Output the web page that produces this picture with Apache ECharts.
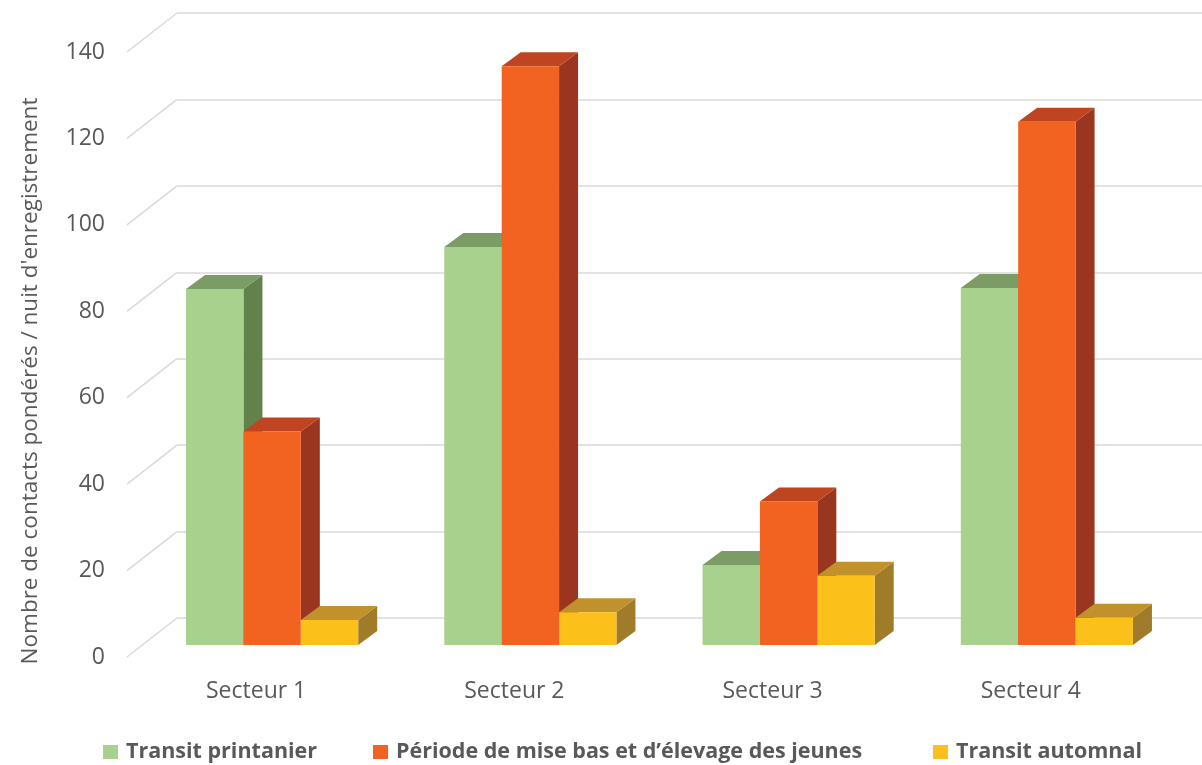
<!DOCTYPE html>
<html>
<head>
<meta charset="utf-8">
<script src="https://cdn.jsdelivr.net/npm/echarts@6/dist/echarts.min.js"></script>
<style>
  html, body { margin: 0; padding: 0; background: #ffffff; }
  #chart { width: 1202px; height: 765px; }
</style>
</head>
<body>
<div id="chart"></div>
<script>
// Sectors and nightly weighted contact counts for each period
const categories = ['Secteur 1', 'Secteur 2', 'Secteur 3', 'Secteur 4'];
const transitPrintanier = [82.4, 92.1, 18.5, 82.6];
const miseBasElevage = [49.4, 133.9, 33.2, 121.1];
const transitAutomnal = [5.8, 7.6, 16.0, 6.3];
const seriesNames = ['Transit printanier', 'Période de mise bas et d\u2019élevage des jeunes', 'Transit automnal'];
const yTicks = [0, 20, 40, 60, 80, 100, 120, 140];
const yTitle = 'Nombre de contacts pondérés / nuit d\'enregistrement';

// Shades per series: front face, top face, right side face
const palette = [
  { front: '#A9D18E', top: '#7B9C64', side: '#62824C' },
  { front: '#F26322', top: '#BF4420', side: '#9A3520' },
  { front: '#FBC019', top: '#C1922B', side: '#9F7B2A' }
];

// Oblique projection: bar depth and the floor/back-wall offsets from the bar-face plane
const BAR_DX = 19, BAR_DY = -14;
const WALL_DX = 50, WALL_DY = -39;   // front edge -> back wall
const TXT = '#595959';
const FONT = '"Open Sans", "Liberation Sans", sans-serif';

// left edge of each legend entry
const legendLeft = [103, 373, 933];

const chart = echarts.init(document.getElementById('chart'), null, { renderer: 'canvas' });

function barRenderer(slot) {
  return function (params, api) {
    const cat = api.value(0);
    const val = api.value(1);
    const band = api.size([1, 0])[0];
    const w = band / 4.5;                 // three bars + 150% gap
    const base = api.coord([cat, 0]);
    const top = api.coord([cat, val]);
    const x0 = base[0] - band / 2 + 0.75 * w + slot * w;
    const x1 = x0 + w;
    const yt = top[1], yb = base[1];
    const c = palette[slot];
    return {
      type: 'group',
      children: [
        { type: 'polygon', shape: { points: [[x1, yt], [x1 + BAR_DX, yt + BAR_DY], [x1 + BAR_DX, yb + BAR_DY], [x1, yb]] },
          style: { fill: c.side } },
        { type: 'polygon', shape: { points: [[x0, yt], [x1, yt], [x1 + BAR_DX, yt + BAR_DY], [x0 + BAR_DX, yt + BAR_DY]] },
          style: { fill: c.top } },
        { type: 'rect', shape: { x: x0, y: yt, width: w, height: yb - yt },
          style: { fill: c.front } }
      ]
    };
  };
}

function toPairs(arr) { return arr.map((v, i) => [i, v]); }

const seriesData = [transitPrintanier, miseBasElevage, transitAutomnal];

const option = {
  backgroundColor: '#ffffff',
  animation: false,
  textStyle: { fontFamily: FONT },
  grid: [
    // plane of the bars' front faces
    { left: 143, top: 40, width: 1033, height: 605 },
    // front edge of the floor (axis labels)
    { left: 127, top: 52, width: 1033, height: 605 },
    // back wall (gridlines)
    { left: 177, top: 13, width: 1033, height: 605 }
  ],
  xAxis: [
    { gridIndex: 0, type: 'category', data: categories, show: false },
    { gridIndex: 1, type: 'category', data: categories,
      axisLine: { show: false }, axisTick: { show: false }, splitLine: { show: false },
      axisLabel: { color: TXT, fontSize: 23, fontFamily: FONT, margin: 23 } },
    { gridIndex: 2, type: 'category', data: categories, show: false }
  ],
  yAxis: [
    { gridIndex: 0, type: 'value', min: 0, max: 140, interval: 20, show: false },
    { gridIndex: 1, type: 'value', min: 0, max: 140, interval: 20,
      axisLine: { show: false }, axisTick: { show: false }, splitLine: { show: false },
      axisLabel: { color: TXT, fontSize: 23, fontFamily: FONT, margin: 22 } },
    { gridIndex: 2, type: 'value', min: 0, max: 140, interval: 20,
      axisLine: { show: false }, axisTick: { show: false }, axisLabel: { show: false },
      splitLine: { show: true, lineStyle: { color: '#D9D9D9', width: 1.5 } } }
  ],
  legend: seriesNames.map((name, k) => ({
    left: legendLeft[k], top: 741, padding: 0,
    itemWidth: 15, itemHeight: 14, icon: 'rect',
    textStyle: { color: TXT, fontSize: 21.5, fontWeight: 'bold', fontFamily: FONT, padding: [0, 0, 0, 3] },
    data: [name]
  })),
  graphic: [
    { type: 'text', x: 31, y: 381, rotation: Math.PI / 2,
      style: { text: yTitle, fill: TXT, fontSize: 22.5, fontFamily: FONT, align: 'center', verticalAlign: 'middle' } }
  ],
  series: [
    // diagonal floor-to-wall segments of each gridline
    {
      type: 'custom', name: 'grid-diagonals', xAxisIndex: 1, yAxisIndex: 1, silent: true,
      data: yTicks.map(v => [0, v]),
      renderItem: function (params, api) {
        const left = params.coordSys.x;
        const y = api.coord([0, api.value(1)])[1];
        return { type: 'line', shape: { x1: left, y1: y, x2: left + WALL_DX, y2: y + WALL_DY },
                 style: { stroke: '#D9D9D9', lineWidth: 1.5 } };
      },
      z: 1
    }
  ].concat(seriesData.map((arr, k) => ({
    type: 'custom', name: seriesNames[k], xAxisIndex: 0, yAxisIndex: 0,
    itemStyle: { color: palette[k].front },
    data: toPairs(arr),
    renderItem: barRenderer(k),
    z: 3
  })))
};

chart.setOption(option);
</script>
</body>
</html>
